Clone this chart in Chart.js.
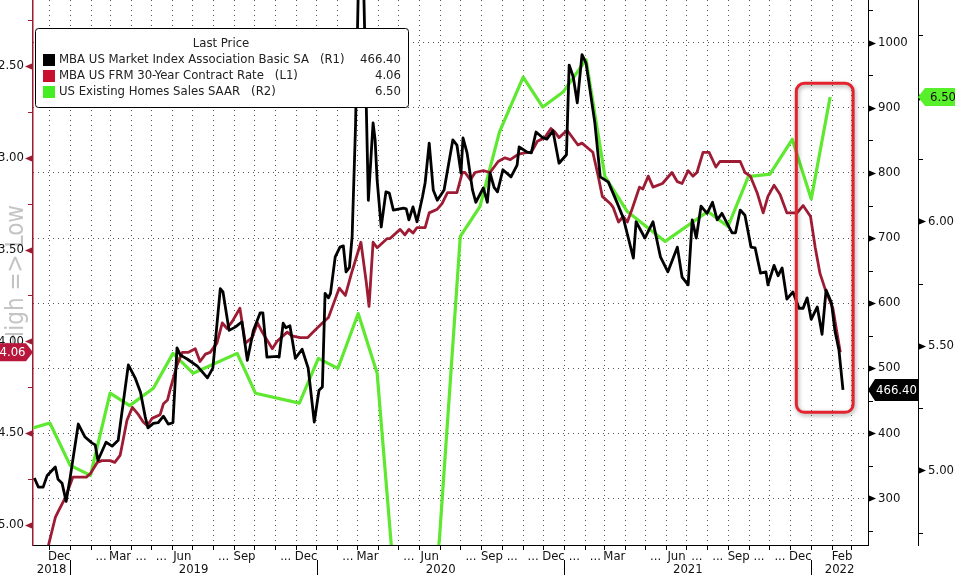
<!DOCTYPE html>
<html>
<head>
<meta charset="utf-8">
<title>MBA Index vs Mortgage Rate vs Existing Home Sales</title>
<script src="https://cdn.jsdelivr.net/npm/chart.js@4.4.1/dist/chart.umd.min.js"></script>
<style>
  html, body { margin: 0; padding: 0; background: #fff; }
  #wrap { width: 955px; height: 575px; overflow: hidden; }
</style>
</head>
<body>
<div id="wrap"><canvas id="chart" width="955" height="575"></canvas></div>
<script>
// MBA US Market Index (R1), weekly
const mbaDates = [
  '2018-11-09','2018-11-15','2018-11-22','2018-11-28','2018-12-10','2018-12-14','2018-12-20','2018-12-26',
  '2019-01-01','2019-01-13','2019-01-23','2019-02-02','2019-02-07','2019-02-11','2019-02-23','2019-03-04',
  '2019-03-13','2019-03-28','2019-04-07','2019-04-15','2019-04-22','2019-04-26','2019-05-04','2019-05-11',
  '2019-05-19','2019-05-26','2019-06-02','2019-06-08','2019-06-13','2019-06-23','2019-07-08','2019-07-23',
  '2019-07-31','2019-08-11','2019-08-15','2019-08-24','2019-09-02','2019-09-12','2019-09-20','2019-09-29',
  '2019-10-09','2019-10-13','2019-10-19','2019-11-03','2019-11-06','2019-11-12','2019-11-16','2019-11-22',
  '2019-11-30','2019-12-10','2019-12-19','2019-12-28','2020-01-04','2020-01-09','2020-01-13','2020-01-18',
  '2020-01-21','2020-01-28','2020-02-04','2020-02-09','2020-02-13','2020-02-18','2020-02-22','2020-02-27',
  '2020-03-06','2020-03-17','2020-03-24','2020-03-27','2020-03-30','2020-04-05','2020-04-12','2020-04-17',
  '2020-04-23','2020-05-08','2020-05-12','2020-05-16','2020-05-22','2020-05-28','2020-06-05','2020-06-09',
  '2020-06-15','2020-06-21','2020-06-27','2020-07-07','2020-07-20','2020-07-26','2020-08-01','2020-08-04',
  '2020-08-10','2020-08-18','2020-08-23','2020-09-03','2020-09-09','2020-09-13','2020-09-19','2020-09-24',
  '2020-10-02','2020-10-14','2020-10-23','2020-10-26','2020-11-07','2020-11-13','2020-11-20','2020-11-29',
  '2020-12-06','2020-12-15','2020-12-24','2021-01-04','2021-01-08','2021-01-14','2021-01-20','2021-01-27',
  '2021-02-02','2021-02-15','2021-02-23','2021-03-07','2021-03-20','2021-03-29','2021-04-13','2021-04-17',
  '2021-04-30','2021-05-12','2021-05-23','2021-06-03','2021-06-17','2021-06-24','2021-07-03','2021-07-09',
  '2021-07-15','2021-07-22','2021-07-31','2021-08-08','2021-08-15','2021-08-22','2021-09-06','2021-09-11',
  '2021-09-18','2021-09-25','2021-10-04','2021-10-10','2021-10-18','2021-10-26','2021-10-29','2021-11-07',
  '2021-11-13','2021-11-19','2021-11-26','2021-12-05','2021-12-14','2021-12-20','2021-12-26','2022-01-01',
  '2022-01-10','2022-01-17','2022-01-23','2022-01-31','2022-02-05','2022-02-11','2022-02-17'
];
const mbaValues = [
  331, 317, 317, 335, 348, 329, 323, 295,
  332, 414, 394, 385, 382, 358, 386, 380,
  389, 505, 485, 463, 425, 408, 415, 416,
  426, 414, 416, 531, 520, 514, 503, 485,
  500, 622, 617, 558, 563, 571, 512, 558,
  585, 585, 517, 518, 517, 569, 562, 565,
  515, 529, 500, 417, 466, 471, 615, 608,
  615, 671, 686, 688, 648, 655, 702, 871,
  1280, 758, 877, 851, 789, 717, 771, 769,
  743, 746, 745, 728, 748, 725, 763, 785,
  846, 774, 758, 774, 851, 843, 800, 854,
  831, 774, 755, 777, 755, 800, 778, 771,
  805, 794, 812, 840, 832, 831, 863, 855,
  852, 865, 815, 828, 966, 948, 908, 982,
  969, 877, 794, 786, 754, 731, 669, 725,
  700, 725, 671, 648, 686, 640, 628, 728,
  700, 749, 738, 755, 728, 738, 708, 708,
  743, 735, 686, 685, 646, 648, 628, 658,
  642, 654, 606, 617, 592, 592, 608, 575,
  594, 552, 620, 600, 558, 528, 466.40
];

// MBA US FRM 30-Year Contract Rate (L1, inverted)
const rateDates = [
  '2018-11-28','2018-12-10','2018-12-14','2018-12-25','2019-01-05','2019-01-11','2019-01-25','2019-01-31',
  '2019-02-10','2019-02-17','2019-03-01','2019-03-08','2019-03-16','2019-03-26','2019-04-03','2019-04-12',
  '2019-04-19','2019-04-25','2019-05-02','2019-05-14','2019-05-19','2019-05-25','2019-05-29','2019-06-08',
  '2019-06-16','2019-06-25','2019-07-05','2019-07-12','2019-07-20','2019-07-27','2019-08-06','2019-08-14',
  '2019-08-21','2019-08-29','2019-09-09','2019-09-17','2019-09-27','2019-10-05','2019-10-12','2019-10-27',
  '2019-11-03','2019-11-18','2019-11-25','2019-12-07','2019-12-18','2019-12-29','2020-01-09','2020-01-18',
  '2020-01-25','2020-02-03','2020-02-12','2020-02-21','2020-03-06','2020-03-14','2020-03-18','2020-03-24',
  '2020-03-30','2020-04-14','2020-04-18','2020-05-03','2020-05-10','2020-05-16','2020-05-22','2020-05-28',
  '2020-06-09','2020-06-15','2020-06-27','2020-07-04','2020-07-12','2020-07-20','2020-07-26','2020-08-03',
  '2020-08-07','2020-08-15','2020-08-22','2020-09-03','2020-09-13','2020-09-25','2020-10-05','2020-10-13',
  '2020-10-25','2020-11-07','2020-11-13','2020-11-22','2020-12-03','2020-12-12','2020-12-18','2020-12-24',
  '2021-01-05','2021-01-21','2021-01-27','2021-02-12','2021-02-20','2021-02-26','2021-03-10','2021-03-14',
  '2021-03-22','2021-03-29','2021-04-04','2021-04-11','2021-04-22','2021-04-27','2021-05-05','2021-05-12',
  '2021-05-26','2021-06-09','2021-06-17','2021-06-24','2021-07-03','2021-07-10','2021-07-16','2021-07-25',
  '2021-08-03','2021-08-13','2021-08-19','2021-09-18','2021-09-25','2021-10-03','2021-10-13','2021-10-22',
  '2021-10-29','2021-11-07','2021-11-16','2021-11-26','2021-12-11','2021-12-20','2021-12-31','2022-01-07',
  '2022-01-14','2022-01-22','2022-02-02','2022-02-13'
];
const rateValues = [
  5.14, 4.96, 4.93, 4.85, 4.74, 4.74, 4.74, 4.72,
  4.66, 4.65, 4.65, 4.66, 4.62, 4.43, 4.36, 4.40,
  4.44, 4.46, 4.42, 4.40, 4.34, 4.32, 4.26, 4.13,
  4.06, 4.06, 4.04, 4.11, 4.07, 4.06, 4.01, 3.90,
  3.93, 3.89, 3.82, 4.01, 3.98, 3.90, 3.95, 4.04,
  4.00, 3.95, 3.97, 3.98, 3.98, 3.94, 3.90, 3.87,
  3.80, 3.71, 3.75, 3.63, 3.46, 3.68, 3.81, 3.46,
  3.49, 3.44, 3.44, 3.39, 3.42, 3.39, 3.41, 3.38,
  3.38, 3.30, 3.28, 3.25, 3.19, 3.19, 3.19, 3.08,
  3.08, 3.12, 3.08, 3.07, 3.08, 3.02, 3.00, 3.01,
  2.98, 2.97, 2.97, 2.91, 2.89, 2.84, 2.86, 2.89,
  2.85, 2.93, 2.92, 2.97, 3.10, 3.21, 3.25, 3.27,
  3.35, 3.32, 3.35, 3.28, 3.16, 3.17, 3.10, 3.16,
  3.14, 3.08, 3.13, 3.14, 3.07, 3.10, 3.08, 2.97,
  2.97, 3.05, 3.02, 3.02, 3.08, 3.10, 3.19, 3.30,
  3.21, 3.15, 3.20, 3.30, 3.30, 3.26, 3.32, 3.49,
  3.63, 3.72, 3.82, 4.06
];

// US Existing Home Sales SAAR, millions (R2), monthly
const salesDates = [
  '2018-11-07','2018-12-02','2019-01-01','2019-01-31','2019-03-01','2019-03-30','2019-05-04','2019-06-02',
  '2019-07-02','2019-09-05','2019-10-02','2019-12-06','2020-01-03','2020-02-01','2020-03-02','2020-03-30',
  '2020-04-29','2020-05-30','2020-06-30','2020-07-31','2020-08-29','2020-09-27','2020-11-01','2020-11-30',
  '2020-12-30','2021-02-02','2021-03-02','2021-04-04','2021-05-30','2021-08-01','2021-08-31','2021-09-30',
  '2021-11-01','2021-12-04','2022-01-01','2022-01-29'
];
const salesValues = [
  5.17, 5.19, 5.02, 4.98, 5.31, 5.26, 5.33, 5.47,
  5.39, 5.47, 5.31, 5.27, 5.45, 5.41, 5.63, 5.39,
  4.40, 3.95, 4.72, 5.94, 6.06, 6.36, 6.58, 6.46,
  6.52, 6.65, 6.18, 6.04, 5.92, 6.04, 5.98, 6.18,
  6.19, 6.33, 6.09, 6.50
];

// x axis: one tick per month from Dec 2018
const monthLabels = [
  'Dec', '', '...', 'Mar', '...', '...', 'Jun', '', '...', 'Sep', '', '...',
  'Dec', '', '...', 'Mar', '', '...', 'Jun', '', '...', 'Sep', '...', '...',
  'Dec', '...', '...', 'Mar', '', '...', 'Jun', '...', '...', 'Sep', '...', '...',
  'Dec', '', 'Feb', ''
];
const yearLabels = ['2018', '2019', '2020', '2021', '2022'];

const seriesNames = [
  'MBA US Market Index Association Basic SA',
  'MBA US FRM 30-Year Contract Rate',
  'US Existing Homes Sales SAAR'
];
const seriesAxes = ['(R1)', '(L1)', '(R2)'];

const xRange = ['2018-11-07', '2022-03-26'];
const leftRange = [2.14, 5.11];
const r1Range = [228, 1066];
const r2Range = [4.70, 6.89];
const highlight = { from: '2021-12-10', to: '2022-03-04', top: 938, bottom: 432 };

const FONT = '"DejaVu Sans Condensed", "DejaVu Sans", sans-serif';
const BLACK = '#000000';
const CRIMSON = '#9e1b34';
const GREEN = '#5ee830';

const DAY0 = Date.UTC(2019, 0, 1);
function dayNum(s) {
  const [y, m, d] = s.split('-').map(Number);
  return (Date.UTC(y, m - 1, d) - DAY0) / 86400000;
}
function monthStart(i) {
  return (Date.UTC(2018, 11 + i, 1) - DAY0) / 86400000;
}
function stepTicks(from, to, step) {
  const out = [];
  for (let v = from; v <= to + 1e-9; v += step) out.push({ value: +v.toFixed(4) });
  return out;
}
function isHalf(v) { return Math.abs(v * 2 - Math.round(v * 2)) < 1e-6; }
function series(dates, values) {
  return dates.map((d, i) => ({ x: dayNum(d), y: values[i] }));
}

function drawMarks(ctx, scale, side, color, isMajor) {
  const x0 = side === 'left' ? scale.right : scale.left;
  const dir = side === 'left' ? -1 : 1;
  ctx.save();
  ctx.fillStyle = color;
  ctx.strokeStyle = color;
  ctx.lineWidth = 1;
  scale.ticks.forEach(t => {
    const y = Math.round(scale.getPixelForValue(t.value)) + 0.5;
    if (isMajor(t.value)) {
      ctx.beginPath();
      ctx.moveTo(x0, y - 3.5);
      ctx.lineTo(x0 + dir * 8, y);
      ctx.lineTo(x0, y + 3.5);
      ctx.closePath();
      ctx.fill();
    } else {
      ctx.beginPath();
      ctx.moveTo(x0, y);
      ctx.lineTo(x0 + dir * 5, y);
      ctx.stroke();
    }
  });
  ctx.restore();
}

function drawTag(ctx, text, y, tipX, dir, bodyW, h, fill, color) {
  const notch = 7;
  ctx.save();
  ctx.fillStyle = fill;
  ctx.beginPath();
  let cx;
  if (dir < 0) {
    ctx.moveTo(tipX, y);
    ctx.lineTo(tipX + notch, y - h / 2);
    ctx.lineTo(tipX + notch + bodyW, y - h / 2);
    ctx.lineTo(tipX + notch + bodyW, y + h / 2);
    ctx.lineTo(tipX + notch, y + h / 2);
    cx = tipX + notch + bodyW / 2;
  } else {
    ctx.moveTo(tipX, y);
    ctx.lineTo(tipX - notch, y - h / 2);
    ctx.lineTo(tipX - notch - bodyW, y - h / 2);
    ctx.lineTo(tipX - notch - bodyW, y + h / 2);
    ctx.lineTo(tipX - notch, y + h / 2);
    cx = tipX - notch - bodyW / 2;
  }
  ctx.closePath();
  ctx.fill();
  ctx.fillStyle = color;
  ctx.font = '13px ' + FONT;
  ctx.textAlign = 'center';
  ctx.textBaseline = 'middle';
  ctx.fillText(text, cx, y + 0.5);
  ctx.restore();
}

function drawLegend(ctx) {
  const colors = [BLACK, '#c8102e', '#44ee22'];
  const lastValues = [mbaValues, rateValues, salesValues].map(a => a[a.length - 1].toFixed(2));
  ctx.save();
  ctx.fillStyle = '#fff';
  ctx.strokeStyle = '#000';
  ctx.lineWidth = 1;
  ctx.beginPath();
  ctx.roundRect(35.5, 28.5, 373, 79, 3);
  ctx.fill();
  ctx.stroke();
  ctx.font = '13px ' + FONT;
  ctx.textBaseline = 'middle';
  ctx.fillStyle = '#222';
  ctx.textAlign = 'center';
  ctx.fillText('Last Price', 221, 44);
  seriesNames.forEach((name, i) => {
    const ry = 60 + i * 16;
    ctx.fillStyle = colors[i];
    ctx.fillRect(43, ry - 6, 12, 12);
    ctx.fillStyle = '#222';
    ctx.textAlign = 'left';
    ctx.fillText(name, 59, ry);
    ctx.fillText(seriesAxes[i], 59 + ctx.measureText(name).width + 11, ry);
    ctx.textAlign = 'right';
    ctx.fillText(lastValues[i], 401, ry);
  });
  ctx.restore();
}

const decor = {
  id: 'decor',
  beforeDraw(chart) {
    const ctx = chart.ctx;
    ctx.save();
    ctx.translate(23, 276);
    ctx.rotate(-Math.PI / 2);
    ctx.font = '24px ' + FONT;
    ctx.fillStyle = '#c4c4c4';
    ctx.textAlign = 'center';
    ctx.fillText('High => Low', 0, 0);
    ctx.restore();
  },
  afterDatasetsDraw(chart) {
    const ctx = chart.ctx;
    const xs = chart.scales.x, r1 = chart.scales.yR1;
    const x1 = xs.getPixelForValue(dayNum(highlight.from));
    const x2 = xs.getPixelForValue(dayNum(highlight.to));
    const y1 = r1.getPixelForValue(highlight.top);
    const y2 = r1.getPixelForValue(highlight.bottom);
    ctx.save();
    ctx.shadowColor = 'rgba(0,0,0,0.35)';
    ctx.shadowBlur = 4;
    ctx.shadowOffsetX = 1;
    ctx.shadowOffsetY = 2;
    ctx.strokeStyle = '#e3232e';
    ctx.lineWidth = 3;
    ctx.beginPath();
    ctx.roundRect(x1, y1, x2 - x1, y2 - y1, 8);
    ctx.stroke();
    ctx.restore();
    drawLegend(ctx);
  },
  afterDraw(chart) {
    const ctx = chart.ctx;
    const { x: xs, yL, yR1, yR2 } = chart.scales;
    drawMarks(ctx, yL, 'left', CRIMSON, isHalf);
    drawMarks(ctx, yR1, 'right', BLACK, v => v % 100 === 0);
    drawMarks(ctx, yR2, 'right', BLACK, isHalf);

    drawTag(ctx, rateValues[rateValues.length - 1].toFixed(2),
      yL.getPixelForValue(rateValues[rateValues.length - 1]), yL.right, 1, 27, 18, '#b8163a', '#fff');
    drawTag(ctx, mbaValues[mbaValues.length - 1].toFixed(2),
      yR1.getPixelForValue(mbaValues[mbaValues.length - 1]), yR1.left, -1, 43, 22, '#000', '#fff');
    drawTag(ctx, salesValues[salesValues.length - 1].toFixed(2),
      yR2.getPixelForValue(salesValues[salesValues.length - 1]), yR2.left, -1, 36, 18, '#58f02a', '#111');

    ctx.save();
    ctx.font = '13px ' + FONT;
    ctx.fillStyle = '#111';
    ctx.strokeStyle = '#000';
    ctx.lineWidth = 1;
    ctx.textAlign = 'center';
    ctx.textBaseline = 'top';
    yearLabels.forEach((yr, i) => {
      const yStart = dayNum(yr + '-01-01');
      const yEnd = dayNum((+yr + 1) + '-01-01');
      const a = xs.getPixelForValue(Math.max(xs.min, yStart));
      const b = xs.getPixelForValue(Math.min(xs.max, yEnd));
      ctx.fillText(yr, (a + b) / 2, 563);
      if (i > 0) {
        const sx = Math.round(xs.getPixelForValue(yStart)) + 0.5;
        ctx.beginPath();
        ctx.moveTo(sx, 560);
        ctx.lineTo(sx, 575);
        ctx.stroke();
      }
    });
    ctx.restore();
  }
};

const tickFont = { family: FONT, size: 13 };

new Chart(document.getElementById('chart'), {
  type: 'line',
  data: {
    datasets: [
      { label: seriesNames[0], data: series(mbaDates, mbaValues), yAxisID: 'yR1',
        borderColor: BLACK, borderWidth: 2.8, order: 1 },
      { label: seriesNames[1], data: series(rateDates, rateValues), yAxisID: 'yL',
        borderColor: CRIMSON, borderWidth: 2.8, order: 2 },
      { label: seriesNames[2], data: series(salesDates, salesValues), yAxisID: 'yR2',
        borderColor: GREEN, borderWidth: 3.2, order: 3 }
    ]
  },
  options: {
    responsive: false,
    animation: false,
    layout: { padding: 0, autoPadding: false },
    elements: {
      point: { radius: 0, hoverRadius: 0 },
      line: { tension: 0, borderJoinStyle: 'round', fill: false }
    },
    plugins: { legend: { display: false }, tooltip: { enabled: false } },
    scales: {
      x: {
        type: 'linear',
        position: 'bottom',
        min: dayNum(xRange[0]),
        max: dayNum(xRange[1]),
        afterBuildTicks: s => { s.ticks = monthLabels.map((_, i) => ({ value: monthStart(i) })); },
        afterFit: s => { s.height = 30; s.paddingLeft = 0; s.paddingRight = 0; },
        ticks: {
          autoSkip: false, maxRotation: 0, minRotation: 0,
          labelOffset: 10, padding: -1, font: tickFont, color: '#111',
          callback: (v, i) => monthLabels[i]
        },
        grid: { color: '#555', lineWidth: 1, drawTicks: true, tickLength: 5, tickColor: '#000' },
        border: { color: '#000', width: 1, dash: [1, 4] }
      },
      yL: {
        type: 'linear',
        position: 'left',
        reverse: true,
        min: leftRange[0],
        max: leftRange[1],
        afterBuildTicks: s => { s.ticks = stepTicks(2.25, 5.0, 0.25); },
        afterFit: s => { s.width = 33; s.paddingTop = 0; s.paddingBottom = 0; },
        ticks: {
          autoSkip: false, padding: 9, font: tickFont, color: '#111',
          callback: v => isHalf(v) ? v.toFixed(2) : ''
        },
        grid: { drawOnChartArea: false, drawTicks: false },
        border: { color: CRIMSON, width: 1.5 }
      },
      yR1: {
        type: 'linear',
        position: 'right',
        weight: 0,
        min: r1Range[0],
        max: r1Range[1],
        afterBuildTicks: s => { s.ticks = stepTicks(250, 1050, 50); },
        afterFit: s => { s.width = 50; s.paddingTop = 0; s.paddingBottom = 0; },
        ticks: {
          autoSkip: false, padding: 10, font: tickFont, color: '#111',
          callback: v => v % 100 === 0 ? String(v) : ''
        },
        grid: {
          drawOnChartArea: true, drawTicks: false, lineWidth: 1,
          color: c => (c.tick && c.tick.value % 100 === 0) ? '#555' : 'rgba(0,0,0,0)'
        },
        border: { color: '#000', width: 1, dash: [1, 4] }
      },
      yR2: {
        type: 'linear',
        position: 'right',
        weight: 1,
        min: r2Range[0],
        max: r2Range[1],
        afterBuildTicks: s => { s.ticks = stepTicks(4.75, 6.75, 0.25); },
        afterFit: s => { s.width = 37; s.paddingTop = 0; s.paddingBottom = 0; },
        ticks: {
          autoSkip: false, padding: 10, font: tickFont, color: '#111',
          callback: v => isHalf(v) ? v.toFixed(2) : ''
        },
        grid: { drawOnChartArea: false, drawTicks: false },
        border: { color: '#000', width: 1 }
      }
    }
  },
  plugins: [decor]
});
</script>
</body>
</html>
